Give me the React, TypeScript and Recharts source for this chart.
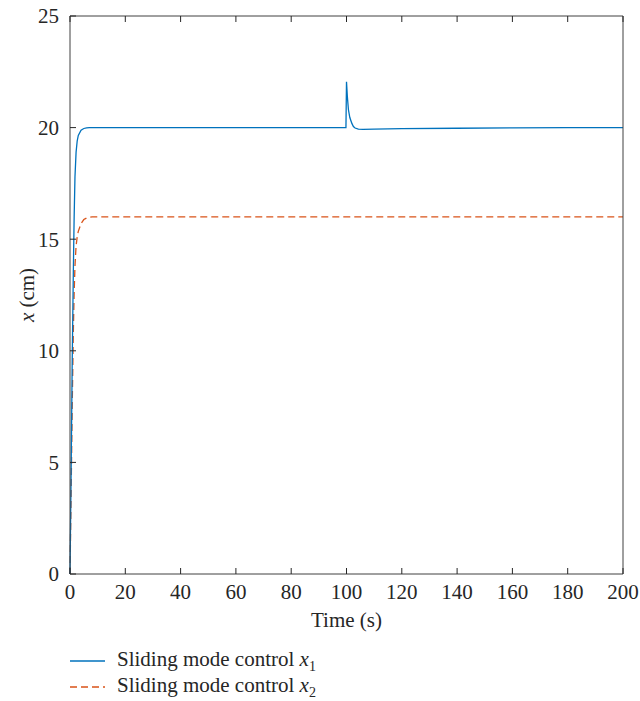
import React from 'react';
import { LineChart, Line, XAxis, YAxis, Legend } from 'recharts';

const timeS = [0, 0.4, 0.8, 1.2, 1.5, 1.8, 2.2, 2.6, 3, 4, 5, 6, 7, 8, 10, 20, 30, 40, 50, 60, 70, 80, 90, 99.8, 100, 100.3, 100.7, 101.2, 101.9, 102.5, 103.1, 104.3, 106, 110, 120, 140, 160, 180, 200];
const x1Values = [0, 4.5, 9.5, 13.5, 16, 17.8, 18.9, 19.4, 19.65, 19.88, 19.96, 19.99, 20, 20, 20, 20, 20, 20, 20, 20, 20, 20, 20, 20, 22.05, 21.4, 20.8, 20.45, 20.2, 20.05, 19.98, 19.93, 19.92, 19.93, 19.95, 19.97, 19.99, 20, 20];
const x2Values = [0, 3.5, 7.5, 10.8, 12.6, 13.8, 14.7, 15.1, 15.35, 15.7, 15.88, 15.95, 15.98, 16, 16, 16, 16, 16, 16, 16, 16, 16, 16, 16, 16, 16, 16, 16, 16, 16, 16, 16, 16, 16, 16, 16, 16, 16, 16];
const xTicks = [0, 20, 40, 60, 80, 100, 120, 140, 160, 180, 200];
const yTicks = [0, 5, 10, 15, 20, 25];
const seriesNames = ['Sliding mode control ', 'Sliding mode control '];

const data = timeS.map((t, i) => ({ t, x1: x1Values[i], x2: x2Values[i] }));

const FONT = '"Liberation Serif", "Times New Roman", serif';
const FS = 21;
const TEXT = '#262626';
const AXIS = '#404040';
const M = 10;
const TL = 6;

const BottomTick = (p: any) => (
  <g>
    <line x1={p.x} x2={p.x} y1={p.y - M} y2={p.y - M - TL} stroke={TEXT} strokeWidth={1} />
    <text x={p.x} y={p.y} dy="0.71em" textAnchor="middle" fontFamily={FONT} fontSize={FS} fill={TEXT}>
      {p.payload.value}
    </text>
  </g>
);
const LeftTick = (p: any) => (
  <g>
    <line x1={p.x + M} x2={p.x + M + TL} y1={p.y} y2={p.y} stroke={TEXT} strokeWidth={1} />
    <text x={p.x - 1} y={p.y} dy="0.355em" textAnchor="end" fontFamily={FONT} fontSize={FS} fill={TEXT}>
      {p.payload.value}
    </text>
  </g>
);
const TopTick = (p: any) => (
  <line x1={p.x} x2={p.x} y1={p.y + M} y2={p.y + M + TL} stroke={TEXT} strokeWidth={1} />
);
const RightTick = (p: any) => (
  <line x1={p.x - M} x2={p.x - M - TL} y1={p.y} y2={p.y} stroke={TEXT} strokeWidth={1} />
);

const YLabel = (p: any) => {
  const vb = p.viewBox || {};
  const cx = 27;
  const cy = vb.y + vb.height / 2;
  return (
    <text x={cx} y={cy} transform={`rotate(-90 ${cx} ${cy})`} textAnchor="middle" dominantBaseline="central" fontFamily={FONT} fontSize={FS} fill={TEXT}>
      <tspan fontStyle="italic">x</tspan>
      <tspan> (cm)</tspan>
    </text>
  );
};

const LegendContent = () => (
  <div style={{ paddingTop: 21, paddingLeft: 70, fontFamily: FONT, fontSize: FS, color: TEXT }}>
    {seriesNames.map((name, i) => (
      <div key={i} style={{ height: 26, display: 'flex', alignItems: 'center', whiteSpace: 'pre' }}>
        <svg width={47} height={10}>
          <line x1={0} x2={35} y1={5} y2={5} stroke={i === 0 ? '#0072BD' : '#D95319'} strokeWidth={1.3} strokeDasharray={i === 0 ? undefined : '7 4'} />
        </svg>
        <span>
          {name}
          <i>x</i>
          <sub style={{ fontSize: 14 }}>{i + 1}</sub>
        </span>
      </div>
    ))}
  </div>
);

export default function App() {
  return (
    <div style={{ position: 'absolute', left: 0, top: 0, width: 640, height: 701, background: '#fff' }}>
      <LineChart width={640} height={701} data={data} margin={{ top: 15, right: 16, left: 0, bottom: 4 }}>
        <XAxis
          xAxisId="b"
          dataKey="t"
          type="number"
          domain={[0, 200]}
          ticks={xTicks}
          height={53}
          tickSize={0}
          tickMargin={M}
          tickLine={false}
          axisLine={{ stroke: AXIS, strokeWidth: 1 }}
          tick={<BottomTick />}
          interval={0}
          label={{ value: 'Time (s)', position: 'insideBottom', offset: 0, fontFamily: FONT, fontSize: FS, fill: TEXT }}
        />
        <XAxis
          xAxisId="top"
          orientation="top"
          dataKey="t"
          type="number"
          domain={[0, 200]}
          ticks={xTicks}
          height={1}
          tickSize={0}
          tickMargin={M}
          tickLine={false}
          axisLine={{ stroke: AXIS, strokeWidth: 1 }}
          tick={<TopTick />}
          interval={0}
        />
        <YAxis
          yAxisId="l"
          type="number"
          domain={[0, 25]}
          ticks={yTicks}
          width={70}
          tickSize={0}
          tickMargin={M}
          tickLine={false}
          axisLine={{ stroke: AXIS, strokeWidth: 1 }}
          tick={<LeftTick />}
          interval={0}
          label={<YLabel />}
        />
        <YAxis
          yAxisId="r"
          orientation="right"
          type="number"
          domain={[0, 25]}
          ticks={yTicks}
          width={1}
          tickSize={0}
          tickMargin={M}
          tickLine={false}
          axisLine={{ stroke: AXIS, strokeWidth: 1 }}
          tick={<RightTick />}
          interval={0}
        />
        <Legend verticalAlign="bottom" align="left" height={70} content={<LegendContent />} />
        <Line xAxisId="b" yAxisId="l" type="linear" dataKey="x2" stroke="#D95319" strokeWidth={1.3} strokeDasharray="7 4" dot={false} isAnimationActive={false} />
        <Line xAxisId="b" yAxisId="l" type="linear" dataKey="x1" stroke="#0072BD" strokeWidth={1.3} dot={false} isAnimationActive={false} />
      </LineChart>
    </div>
  );
}
